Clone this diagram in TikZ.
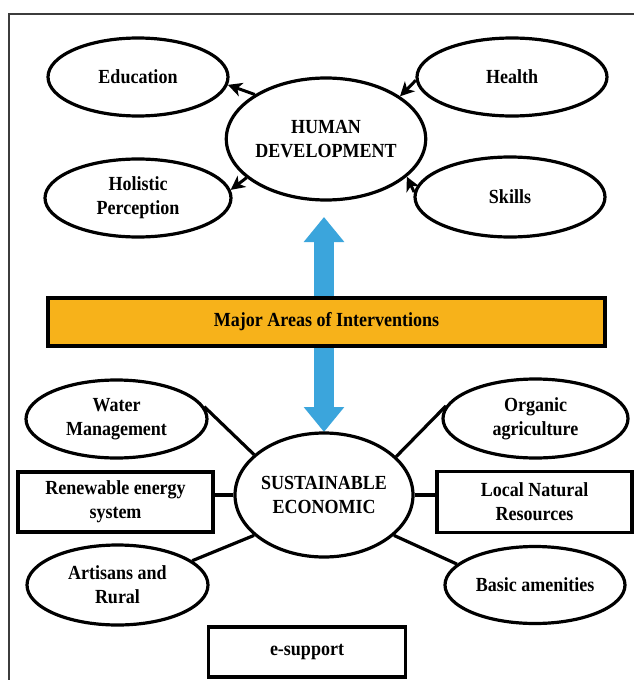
\documentclass[tikz,border=0pt]{standalone}
\usepackage{fontspec}
\setmainfont{Liberation Serif}[FakeStretch=0.9]
\usetikzlibrary{shapes.geometric,arrows.meta}
\definecolor{arrowblue}{RGB}{59,165,220}
\definecolor{barorange}{RGB}{247,178,26}
\definecolor{framegray}{RGB}{60,60,60}
\tikzset{
  lbl/.style={font=\fontsize{20}{24}\selectfont\bfseries, align=center, text=black},
  ell/.style={lbl, ellipse, draw=black, line width=3.2pt, inner sep=0pt},
  boxn/.style={lbl, rectangle, draw=black, line width=3.2pt, inner sep=0pt},
  link/.style={draw=black, line width=3.2pt},
  arr/.style={draw=black, line width=3pt, -{Stealth[length=14pt,width=14pt,inset=4pt]}},
}
\begin{document}
\begin{tikzpicture}[x=1pt,y=-1pt]
\useasboundingbox (0,0) rectangle (634,680);
\fill[white] (0,0) rectangle (634,680);
\draw[framegray, line width=1.6pt] (9,680) -- (9,14) -- (634,14);

% top part
\node[ell, minimum width=180pt, minimum height=78pt] (edu) at (138,77) {Education};
\node[ell, minimum width=190pt, minimum height=78pt] (health) at (512,77) {Health};
\node[ell, minimum width=178pt, minimum height=122pt] (human) at (326,139) {HUMAN\\DEVELOPMENT};
\node[ell, minimum width=186pt, minimum height=78pt] (holistic) at (138,198) {Holistic\\Perception};
\node[ell, minimum width=190pt, minimum height=80pt] (skills) at (510,197) {Skills};

\draw[arr] (human.148) -- (edu.-5);
\draw[arr] (human.206) -- (holistic.5);
\draw[arr] (health.182) -- (human.30);
\draw[arr] (skills.177) -- (human.335);

% blue double arrow
\coordinate (toptip) at (324,217);
\coordinate (bottip) at (324,432);
\draw[arrowblue, line width=20pt, {Triangle[width=39pt,length=25pt]}-{Triangle[width=39pt,length=25pt]}] (toptip) -- (bottip);

% bar
\node[lbl, rectangle, draw=black, line width=3.2pt, fill=barorange, minimum width=557pt, minimum height=48pt, inner sep=0pt] (bar) at (326.5,322) {Major Areas of Interventions};

% bottom part
\node[ell, minimum width=181pt, minimum height=78pt] (water) at (116.5,419) {Water\\Management};
\node[ell, minimum width=185pt, minimum height=79pt] (organic) at (535.5,418.5) {Organic\\agriculture};
\node[ell, minimum width=178pt, minimum height=124pt] (se) at (324,495) {SUSTAINABLE\\ECONOMIC};
\node[boxn, minimum width=195pt, minimum height=60pt] (renew) at (115.5,502) {Renewable energy\\system};
\node[boxn, minimum width=195pt, minimum height=61pt] (local) at (534.5,502) {Local Natural\\Resources};
\node[ell, minimum width=181pt, minimum height=80pt] (artisans) at (117.5,585) {Artisans and\\Rural};
\node[ell, minimum width=180pt, minimum height=77pt] (basic) at (535,585) {Basic amenities};
\node[boxn, minimum width=197pt, minimum height=50pt] (esup) at (307,652) {e-support};

\draw[link] (water.8) -- (se.150);
\draw[link] (organic.172) -- (se.28);
\draw[link] (se.west) -- (se.west -| renew.east);
\draw[link] (se.east) -- (se.east -| local.west);
\draw[link] (artisans.18) -- (se.210);
\draw[link] (basic.165) -- (se.330);
\end{tikzpicture}
\end{document}
